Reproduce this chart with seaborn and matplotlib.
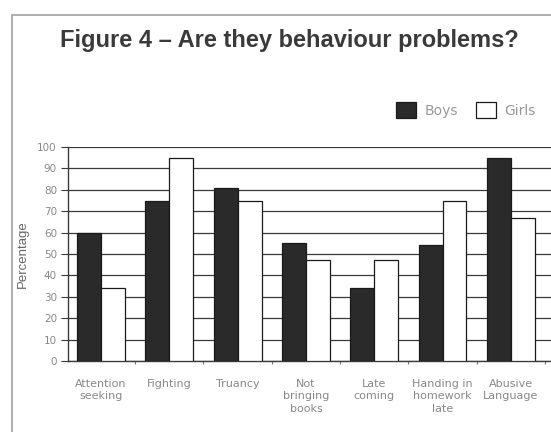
import matplotlib
matplotlib.use("Agg")
import matplotlib.pyplot as plt
from matplotlib import font_manager
from matplotlib.patches import Rectangle
from matplotlib.ticker import FixedLocator
import pandas as pd
import seaborn as sns

categories = ["Attention\nseeking", "Fighting", "Truancy", "Not\nbringing\nbooks",
              "Late\ncoming", "Handing in\nhomework\nlate", "Abusive\nLanguage"]
boys = [60, 75, 81, 55, 34, 54, 95]
girls = [34, 95, 75, 47, 47, 75, 67]
y_ticks = [0, 10, 20, 30, 40, 50, 60, 70, 80, 90, 100]

df = pd.DataFrame({
    "Behaviour": categories * 2,
    "Percentage": boys + girls,
    "Group": ["Boys"] * len(categories) + ["Girls"] * len(categories),
})

sns.set_theme(style="white")
plt.rcParams["font.family"] = ["Liberation Sans", "DejaVu Sans"]

# regular-width bold face for the heading
bold_file = None
for path in font_manager.findSystemFonts():
    if path.endswith("LiberationSans-Bold.ttf"):
        bold_file = path
        break
if bold_file:
    title_font = font_manager.FontProperties(fname=bold_file, size=17)
else:
    title_font = font_manager.FontProperties(family="DejaVu Sans", weight="bold", size=16)

W, H = 551, 432
fig = plt.figure(figsize=(W / 100, H / 100), dpi=100)
fig.patch.set_facecolor("white")

# plot area in pixel terms
left, right, top, bottom = 68, 560, 147, 361
ax = fig.add_axes([left / W, 1 - bottom / H, (right - left) / W, (bottom - top) / H])

sns.barplot(data=df, x="Behaviour", y="Percentage", hue="Group",
            palette={"Boys": "#2a2a2a", "Girls": "white"},
            width=0.7, edgecolor="#1a1a1a", linewidth=0.9, saturation=1,
            ax=ax, zorder=3)

ax.set_xlim(-0.483, 6.72)
ax.set_ylim(0, 100)
ax.set_yticks(y_ticks)
ax.yaxis.grid(True, color="#3a3a3a", linewidth=0.9, zorder=0)
ax.xaxis.grid(False)
ax.set_axisbelow(True)

for s in ["top", "right"]:
    ax.spines[s].set_visible(False)
for s in ["left", "bottom"]:
    ax.spines[s].set_color("#3a3a3a")
    ax.spines[s].set_linewidth(1.0)

ax.tick_params(axis="y", which="major", direction="out", length=5, width=0.8,
               color="#3a3a3a", labelsize=7.5, labelcolor="#888888", pad=3, left=True)
ax.tick_params(axis="x", which="major", length=0, labelsize=8,
               labelcolor="#888888", pad=13)
ax.xaxis.set_minor_locator(FixedLocator([k + 0.5 for k in range(len(categories))]))
ax.tick_params(axis="x", which="minor", direction="out", length=2.5, width=0.8,
               color="#777777", bottom=True)
for lbl in ax.get_yticklabels():
    lbl.set_family(["DejaVu Sans"])
for lbl in ax.get_xticklabels():
    lbl.set_linespacing(1.3)
    lbl.set_family(["DejaVu Sans"])

ax.set_xlabel("")
ax.set_ylabel("Percentage", fontsize=9.5, color="#666666", labelpad=6)

handles, labels = ax.get_legend_handles_labels()
leg = ax.legend(handles, labels, ncol=2, loc="center",
                bbox_to_anchor=(466 / W, 1 - 110 / H), bbox_transform=fig.transFigure,
                frameon=False, fontsize=10, labelcolor="#999999",
                handlelength=1.45, handleheight=1.45, handletextpad=0.6,
                columnspacing=1.3, borderpad=0)
for t in leg.get_texts():
    t.set_family(["DejaVu Sans"])

fig.text(289 / W, 1 - 40 / H, "Figure 4 \u2013 Are they behaviour problems?",
         ha="center", va="center", fontproperties=title_font, color="#3a3a3a")

# chart border
fig.add_artist(Rectangle((12 / W, -0.1), 1.2, 1 - 15 / H + 0.1,
                         transform=fig.transFigure, fill=False,
                         edgecolor="#a8a8a8", linewidth=1.3))

fig.savefig("out.png", dpi=100, facecolor="white")
